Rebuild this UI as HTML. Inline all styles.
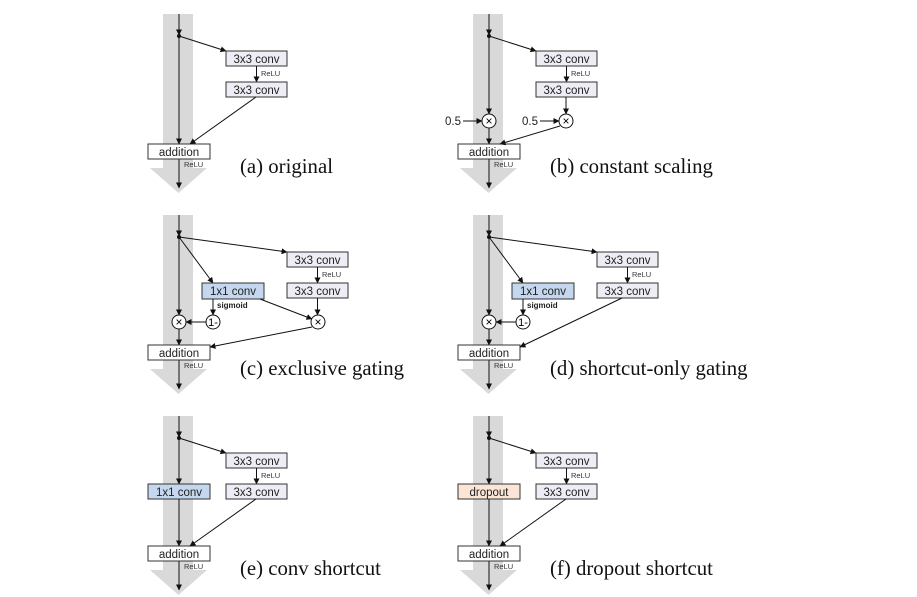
<!DOCTYPE html>
<html><head><meta charset="utf-8"><style>
html,body{margin:0;padding:0;background:#fff;}
svg{display:block}
.bx{font-family:"Liberation Sans",sans-serif;font-size:11.5px;fill:#222;text-anchor:middle}
.rl{font-family:"Liberation Sans",sans-serif;font-size:7.5px;fill:#333}
.sg{font-family:"Liberation Sans",sans-serif;font-size:8px;font-weight:bold;fill:#222}
.cap{font-family:"Liberation Serif",serif;font-size:20.8px;fill:#111}
.ln{stroke:#111;stroke-width:1;fill:none}
.box{fill:#eeedf5;stroke:#333;stroke-width:1}
.op{font-family:"Liberation Sans",sans-serif;font-size:12px;text-anchor:middle}
</style></head><body>
<svg width="917" height="597" viewBox="0 0 917 597" xmlns="http://www.w3.org/2000/svg">
<defs>
<marker id="a" markerWidth="6" markerHeight="6" refX="5.5" refY="3" orient="auto" markerUnits="userSpaceOnUse"><path d="M0,0 L6,3 L0,6 z" fill="#111"/></marker>
<g id="base">
<rect x="163" y="14" width="30" height="155" fill="#d9d9d9"/>
<polygon points="150,168 207,168 178.5,193" fill="#d9d9d9"/>
<line class="ln" x1="179" y1="14" x2="179" y2="35" marker-end="url(#a)"/>
<circle cx="179" cy="36" r="2" fill="#111"/>
<line class="ln" x1="179" y1="159" x2="179" y2="188" marker-end="url(#a)"/>
<rect class="box" x="148" y="144" width="62" height="15" style="fill:#fff"/>
<text class="bx" x="179" y="156">addition</text>
<text class="rl" x="184" y="167">ReLU</text>
</g>
<g id="conv2">
<rect class="box" x="0" y="0" width="61" height="15"/>
<text class="bx" x="30.5" y="12">3x3 conv</text>
<line class="ln" x1="30.5" y1="15" x2="30.5" y2="31" marker-end="url(#a)"/>
<text class="rl" x="35" y="25">ReLU</text>
<rect class="box" x="0" y="31" width="61" height="15"/>
<text class="bx" x="30.5" y="43">3x3 conv</text>
</g>
</defs>

<!-- (a) -->
<use href="#base"/>
<line class="ln" x1="179" y1="36" x2="179" y2="144" marker-end="url(#a)"/>
<line class="ln" x1="179" y1="36" x2="226" y2="51" marker-end="url(#a)"/>
<use href="#conv2" x="226" y="51"/>
<line class="ln" x1="256" y1="97" x2="190" y2="144" marker-end="url(#a)"/>
<text class="cap" x="240" y="173">(a) original</text>

<!-- (b) -->
<g transform="translate(310,0)">
<use href="#base"/>
<line class="ln" x1="179" y1="36" x2="179" y2="114" marker-end="url(#a)"/>
<line class="ln" x1="179" y1="36" x2="226" y2="51" marker-end="url(#a)"/>
<use href="#conv2" x="226" y="51"/>
<circle cx="179" cy="121" r="7" fill="#fff" stroke="#111"/>
<text class="op" x="179" y="125">×</text>
<circle cx="256" cy="121" r="7" fill="#fff" stroke="#111"/>
<text class="op" x="256" y="125">×</text>
<line class="ln" x1="256" y1="97" x2="256" y2="114" marker-end="url(#a)"/>
<text class="bx" x="143" y="125">0.5</text>
<line class="ln" x1="153" y1="121" x2="172" y2="121" marker-end="url(#a)"/>
<text class="bx" x="220" y="125">0.5</text>
<line class="ln" x1="230" y1="121" x2="249" y2="121" marker-end="url(#a)"/>
<line class="ln" x1="179" y1="128" x2="179" y2="144" marker-end="url(#a)"/>
<line class="ln" x1="250" y1="126" x2="190" y2="144" marker-end="url(#a)"/>
<text class="cap" x="240" y="173">(b) constant scaling</text>
</g>

<!-- (c) -->
<g transform="translate(0,201)">
<use href="#base"/>
<line class="ln" x1="179" y1="36" x2="179" y2="114" marker-end="url(#a)"/>
<line class="ln" x1="179" y1="36" x2="287" y2="51" marker-end="url(#a)"/>
<use href="#conv2" x="287" y="51"/>
<line class="ln" x1="179" y1="36" x2="213" y2="82" marker-end="url(#a)"/>
<rect x="202" y="82" width="62" height="16" fill="#c5d7ee" stroke="#333"/>
<text class="bx" x="233" y="94">1x1 conv</text>
<line class="ln" x1="213" y1="98" x2="213" y2="114" marker-end="url(#a)"/>
<text class="sg" x="217" y="107">sigmoid</text>
<circle cx="179" cy="121" r="7" fill="#fff" stroke="#111"/>
<text class="op" x="179" y="125">×</text>
<circle cx="213" cy="121" r="7" fill="#fff" stroke="#111"/>
<text class="op" x="213" y="125" style="font-size:11px">1-</text>
<line class="ln" x1="206" y1="121" x2="186" y2="121" marker-end="url(#a)"/>
<line class="ln" x1="179" y1="128" x2="179" y2="144" marker-end="url(#a)"/>
<line class="ln" x1="260" y1="98" x2="312" y2="118" marker-end="url(#a)"/>
<line class="ln" x1="317.5" y1="97" x2="317.5" y2="114" marker-end="url(#a)"/>
<circle cx="318" cy="121" r="7" fill="#fff" stroke="#111"/>
<text class="op" x="318" y="125">×</text>
<line class="ln" x1="312" y1="126" x2="210" y2="146" marker-end="url(#a)"/>
<text class="cap" x="240" y="174">(c) exclusive gating</text>
</g>
<!-- (d) -->
<g transform="translate(310,201)">
<use href="#base"/>
<line class="ln" x1="179" y1="36" x2="179" y2="114" marker-end="url(#a)"/>
<line class="ln" x1="179" y1="36" x2="287" y2="51" marker-end="url(#a)"/>
<use href="#conv2" x="287" y="51"/>
<line class="ln" x1="179" y1="36" x2="213" y2="82" marker-end="url(#a)"/>
<rect x="202" y="82" width="62" height="16" fill="#c5d7ee" stroke="#333"/>
<text class="bx" x="233" y="94">1x1 conv</text>
<line class="ln" x1="213" y1="98" x2="213" y2="114" marker-end="url(#a)"/>
<text class="sg" x="217" y="107">sigmoid</text>
<circle cx="179" cy="121" r="7" fill="#fff" stroke="#111"/>
<text class="op" x="179" y="125">×</text>
<circle cx="213" cy="121" r="7" fill="#fff" stroke="#111"/>
<text class="op" x="213" y="125" style="font-size:11px">1-</text>
<line class="ln" x1="206" y1="121" x2="186" y2="121" marker-end="url(#a)"/>
<line class="ln" x1="179" y1="128" x2="179" y2="144" marker-end="url(#a)"/>
<line class="ln" x1="312" y1="97" x2="210" y2="146" marker-end="url(#a)"/>
<text class="cap" x="240" y="174">(d) shortcut-only gating</text>
</g>

<!-- (e) -->
<g transform="translate(0,402)">
<use href="#base"/>
<line class="ln" x1="179" y1="36" x2="179" y2="82" marker-end="url(#a)"/>
<line class="ln" x1="179" y1="36" x2="226" y2="51" marker-end="url(#a)"/>
<use href="#conv2" x="226" y="51"/>
<rect x="148" y="82" width="62" height="15" fill="#c5d7ee" stroke="#333"/>
<text class="bx" x="179" y="94">1x1 conv</text>
<line class="ln" x1="179" y1="97" x2="179" y2="144" marker-end="url(#a)"/>
<line class="ln" x1="256" y1="97" x2="190" y2="144" marker-end="url(#a)"/>
<text class="cap" x="240" y="173">(e) conv shortcut</text>
</g>
<!-- (f) -->
<g transform="translate(310,402)">
<use href="#base"/>
<line class="ln" x1="179" y1="36" x2="179" y2="82" marker-end="url(#a)"/>
<line class="ln" x1="179" y1="36" x2="226" y2="51" marker-end="url(#a)"/>
<use href="#conv2" x="226" y="51"/>
<rect x="148" y="82" width="62" height="15" fill="#fbe5d6" stroke="#333"/>
<text class="bx" x="179" y="94">dropout</text>
<line class="ln" x1="179" y1="97" x2="179" y2="144" marker-end="url(#a)"/>
<line class="ln" x1="256" y1="97" x2="190" y2="144" marker-end="url(#a)"/>
<text class="cap" x="240" y="173">(f) dropout shortcut</text>
</g>
</svg>
</body></html>
